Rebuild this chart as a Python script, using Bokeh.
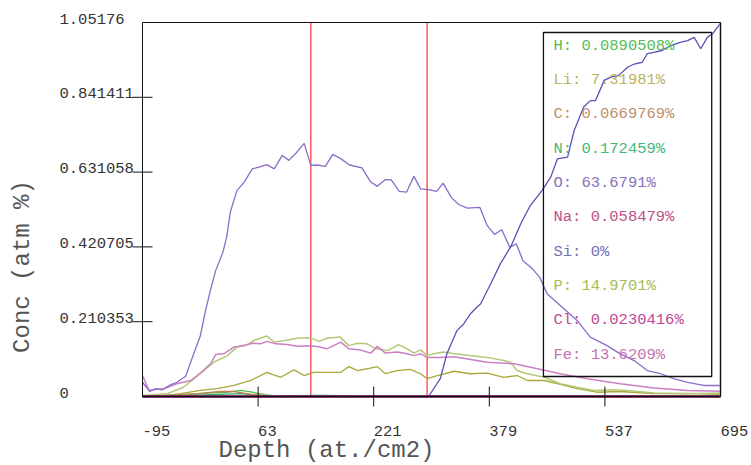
import math
from bokeh.plotting import figure
from bokeh.models import Range1d, Label, BoxAnnotation
from bokeh.embed import file_html
from bokeh.resources import INLINE

# ---------------- data ----------------
x_ticks = [-95, 63, 221, 379, 537, 695]
y_ticks = [0, 0.210353, 0.420705, 0.631058, 0.841411, 1.05176]
y_tick_labels = ["0", "0.210353", "0.420705", "0.631058", "0.841411", "1.05176"]
markers = [135, 294]

depth_O = [-95,-85,-77,-68,-57,-48,-36,-25,-16,-9,-2,5,15,20,25,34,44,55,64,75,85,96,105,116,126,135,144,155,165,176,
           188,205,217,226,237,245,256,266,276,285,296,307,316,327,337,349,366,376,386,396,407,416,425,438,448,458,476,499,517,540,
           558,577,595,613,631,650,672,695]
conc_O = [0.040,0.014,0.022,0.019,0.033,0.040,0.057,0.120,0.170,0.240,0.300,0.354,0.406,0.448,0.518,0.579,0.603,0.640,0.645,0.652,
          0.640,0.678,0.664,0.687,0.712,0.650,0.651,0.647,0.681,0.669,0.651,0.643,0.603,0.591,0.610,0.609,0.577,0.575,0.619,0.584,
          0.582,0.577,0.600,0.560,0.540,0.530,0.532,0.481,0.456,0.469,0.420,0.429,0.382,0.359,0.335,0.289,0.256,0.214,0.167,0.143,
          0.120,0.101,0.073,0.064,0.050,0.040,0.031,0.031]

depth_Si = [-95,296,312,321,335,344,353,362,367,381,394,408,422,435,451,463,472,486,495,508,517,524,536,545,556,568,577,588,595,604,615,
            627,640,650,659,668,677,684,691,695]
conc_Si = [0,0,0.050,0.120,0.186,0.204,0.232,0.251,0.260,0.317,0.373,0.420,0.486,0.537,0.579,0.617,0.668,0.673,0.748,0.814,0.832,
           0.832,0.889,0.898,0.903,0.926,0.935,0.940,0.964,0.968,0.973,0.987,0.996,1.001,1.010,0.978,1.010,1.020,1.039,1.050]

depth_P = [-95,-61,-39,-16,3,21,34,48,59,75,85,98,116,135,146,157,175,187,199,212,224,240,255,267,276,285,294,303,317,331,
           353,376,399,408,417,431,454,476,499,522,545,568,604,650,695]
conc_P = [0.003,0.008,0.026,0.064,0.097,0.115,0.139,0.146,0.159,0.170,0.153,0.157,0.164,0.165,0.155,0.164,0.167,0.143,0.150,0.148,
          0.134,0.129,0.146,0.134,0.122,0.131,0.115,0.120,0.125,0.120,0.115,0.110,0.101,0.096,0.073,0.064,0.054,0.036,0.026,0.017,
          0.019,0.017,0.010,0.008,0.010]

depth_Fe = [-95,-86,-80,-66,-48,-29,-16,-2,5,16,30,44,55,66,75,87,103,116,135,148,157,176,187,203,217,226,237,253,267,276,
            285,294,312,331,376,413,445,476,513,558,604,650,695]
conc_Fe = [0.059,0.017,0.019,0.022,0.036,0.045,0.066,0.092,0.118,0.120,0.139,0.143,0.150,0.148,0.155,0.148,0.146,0.141,0.143,0.139,
           0.134,0.153,0.134,0.131,0.122,0.141,0.122,0.125,0.120,0.115,0.120,0.110,0.110,0.112,0.096,0.092,0.078,0.064,0.050,0.036,
           0.024,0.017,0.015]

depth_Li = [-95,-61,-43,-16,7,30,53,75,94,112,126,139,157,176,187,199,212,226,237,253,271,285,294,308,331,353,376,399,417,431,
            454,476,499,526,558,604,650,695]
conc_Li = [0.002,0.003,0.008,0.017,0.022,0.031,0.045,0.068,0.054,0.075,0.059,0.068,0.068,0.068,0.084,0.073,0.078,0.084,0.064,0.073,
           0.076,0.064,0.050,0.059,0.071,0.064,0.066,0.054,0.059,0.045,0.045,0.034,0.022,0.012,0.014,0.008,0.009,0.006]

depth_H = [-95,-40,0,20,40,55,72,90,695]
conc_H = [0.002,0.004,0.010,0.012,0.017,0.012,0.005,0.001,0.001]
depth_N = [-95,-30,10,40,60,80,150,200,695]
conc_N = [0.001,0.003,0.006,0.008,0.004,0.002,0.003,0.002,0.001]
depth_C = [-95,-20,10,30,55,80,695]
conc_C = [0.001,0.008,0.014,0.014,0.006,0.001,0.0]
depth_Na = [-95, 695]
conc_Na = [0.0, 0.0]
depth_Cl = [-95, 695]
conc_Cl = [0.0, 0.0]

legend_labels = ["H: 0.0890508%", "Li: 7.31981%", "C: 0.0669769%", "N: 0.172459%", "O: 63.6791%",
                 "Na: 0.058479%", "Si: 0%", "P: 14.9701%", "Cl: 0.0230416%", "Fe: 13.6209%"]
legend_colors = ["#55bb55", "#bbb35a", "#c0906a", "#45b878", "#8a70c0",
                 "#c05088", "#7070b8", "#a8bb55", "#c04898", "#c870b0"]

# ---------------- layout (pixels) ----------------
W, H = 751, 465
PL, PR, PT, PB = 142, 31, 22, 69          # plot box margins inside the canvas
FONT = "Liberation Mono"
x0, x1 = x_ticks[0], x_ticks[-1]
y0, y1 = y_ticks[0], y_ticks[-1]
sx = (x1 - x0) / (W - PL - PR)
sy = (y1 - y0) / (H - PT - PB)

p = figure(width=W, height=H, output_backend="svg", toolbar_location=None,
           x_range=Range1d(x0 - PL * sx, x1 + PR * sx),
           y_range=Range1d(y0 - PB * sy, y1 + PT * sy),
           x_axis_location=None, y_axis_location=None, title=None,
           min_border=0)
p.xgrid.visible = False
p.ygrid.visible = False
p.outline_line_color = None
p.background_fill_color = "white"
p.border_fill_color = "white"

# plot box
p.add_layout(BoxAnnotation(left=x0, right=x1, top=y1, bottom=y0,
                           fill_alpha=0, line_color="#111111", line_width=1, line_alpha=1))
# legend box
p.add_layout(BoxAnnotation(left=453, right=683, top=1.0236, bottom=0.0562,
                           fill_alpha=0, line_color="#111111", line_width=1.3, line_alpha=1))

# marker lines
p.segment(x0=markers, y0=[y0] * len(markers), x1=markers, y1=[y1] * len(markers),
          line_color="#ff5a5a", line_width=1.5)

series = [
    (depth_H, conc_H, "#50c050", 1.3),
    (depth_N, conc_N, "#30a870", 1.3),
    (depth_C, conc_C, "#c08050", 1.3),
    (depth_Li, conc_Li, "#a8a838", 1.3),
    (depth_P, conc_P, "#b4c878", 1.5),
    (depth_Fe, conc_Fe, "#cc80c4", 1.5),
    (depth_O, conc_O, "#8c6cc8", 1.3),
    (depth_Si, conc_Si, "#5c50b8", 1.3),
    (depth_Na, conc_Na, "#8a2868", 2.5),
    (depth_Cl, conc_Cl, "#6a2050", 2.0),
]
for xs, ys, c, w in series:
    p.line(xs, ys, line_color=c, line_width=w)

# right frame edge in gray
p.segment(x0=[x1], y0=[y0], x1=[x1], y1=[y1], line_color="#909090", line_width=2)

# tick marks (interior only)
p.scatter(x=[x0] * (len(y_ticks) - 2), y=y_ticks[1:-1], marker="dash", size=20,
          line_color="#111111", line_width=1)
p.scatter(x=x_ticks[1:-1], y=[y0] * (len(x_ticks) - 2), marker="dash", size=20,
          angle=math.pi / 2, line_color="#111111", line_width=1)

# tick labels
for v, t in zip(y_ticks, y_tick_labels):
    p.add_layout(Label(x=x0, y=v, text=t, x_offset=-83, y_offset=4,
                       text_align="left", text_baseline="middle",
                       text_font=FONT, text_font_size="15.5px", text_color="#333333"))
for v in x_ticks:
    p.add_layout(Label(x=v, y=y0, text=str(v), x_offset=0, y_offset=-34,
                       text_align="left", text_baseline="middle",
                       text_font=FONT, text_font_size="15.5px", text_color="#333333"))

# axis titles
p.add_layout(Label(x=x0, y=y0, text="Depth (at./cm2)", x_offset=184, y_offset=-54,
                   text_align="center", text_baseline="middle",
                   text_font=FONT, text_font_size="24px", text_color="#555555"))
p.add_layout(Label(x=x0, y=y0, text="Conc (atm %)", x_offset=-120, y_offset=130,
                   angle=math.pi / 2, text_align="center", text_baseline="middle",
                   text_font=FONT, text_font_size="24px", text_color="#555555"))

# legend texts
for i, (t, c) in enumerate(zip(legend_labels, legend_colors)):
    p.add_layout(Label(x=x1, y=y1, text=t, x_offset=-167, y_offset=-(23 + 34.37 * i),
                       text_align="left", text_baseline="middle",
                       text_font=FONT, text_font_size="15.5px", text_color=c))

open("out.html", "w").write(file_html(p, INLINE))
